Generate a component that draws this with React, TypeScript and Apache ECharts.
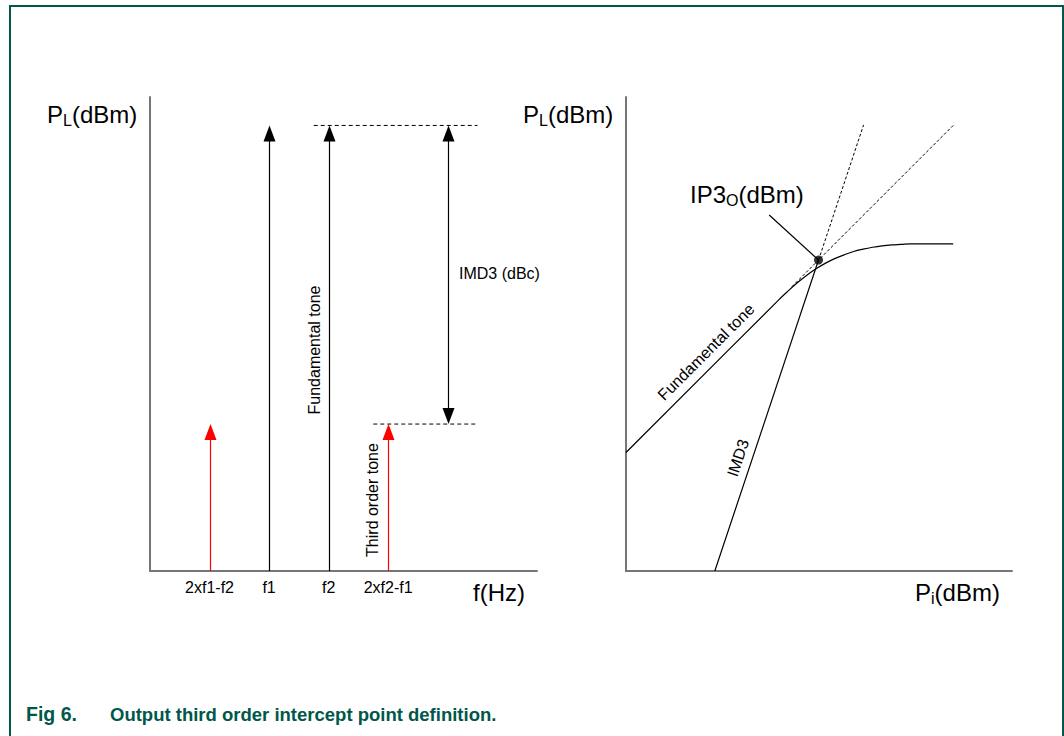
import React, { useEffect, useRef } from 'react';
import * as echarts from 'echarts';

const FONT = '"Liberation Sans", Arial, Helvetica, sans-serif';
const GREEN = '#00574A';
const AXIS_GRAY = '#767676';

// ---------- Left panel: output spectrum ----------
const freqTickPositions = [1, 2, 3, 4];
const freqTickLabels = ['2xf1-f2', 'f1', 'f2', '2xf2-f1'];
// [frequency position, base level, tone level]
const fundamentalTones = [
  [2, 0, 94],
  [3, 0, 94],
];
const thirdOrderTones = [
  [1, 0, 31],
  [4, 0, 31],
];
// [position, lower level, upper level]
const imd3Span = [[5, 31, 94]];
const fundamentalLevelGuide = [
  [2.75, 94],
  [5.5, 94],
];
const thirdOrderLevelGuide = [
  [3.75, 31],
  [5.5, 31],
];

// ---------- Right panel: Pout vs Pin ----------
const fundamentalPi = [-40, -8, -6, -4, -2, 0, 2, 4, 6, 8, 10, 12, 14, 16, 18, 20, 29];
const fundamentalPout = [-35, -3, -1.1, 0.7, 2.3, 3.7, 4.9, 5.9, 6.7, 7.4, 7.9, 8.3, 8.6, 8.8, 8.9, 9.0, 9.0];
const fundamentalExtPi = [-5, 29];
const fundamentalExtPout = [0, 34];
const imd3Pi = [-21.27, 0.6];
const imd3Pout = [-60, 5.6];
const imd3ExtPi = [0.6, 10.1];
const imd3ExtPout = [5.6, 34.1];
const interceptPoint = [0.6, 5.6];
const leaderPi = [-9.8, 0.6];
const leaderPout = [15.1, 5.6];

const zip = (a: number[], b: number[]) => a.map((v, i) => [v, b[i]]);

const arrowRenderer = (color: string, both: boolean) => (_params: any, api: any) => {
  const x = api.value(0);
  const pBase = api.coord([x, api.value(1)]);
  const pTip = api.coord([x, api.value(2)]);
  const px = Math.round(pTip[0]) + 0.5;
  const hw = 6;
  const hh = 16;
  const children: any[] = [
    {
      type: 'line',
      shape: { x1: px, y1: both ? pBase[1] - hh + 1 : pBase[1], x2: px, y2: pTip[1] + hh - 1 },
      style: { stroke: color, lineWidth: 1.2 },
    },
    {
      type: 'polygon',
      shape: { points: [[px, pTip[1]], [px - hw, pTip[1] + hh], [px + hw, pTip[1] + hh]] },
      style: { fill: color },
    },
  ];
  if (both) {
    children.push({
      type: 'polygon',
      shape: { points: [[px, pBase[1]], [px - hw, pBase[1] - hh], [px + hw, pBase[1] - hh]] },
      style: { fill: color },
    });
  }
  return { type: 'group', children };
};

const hiddenAxisParts = {
  axisTick: { show: false },
  splitLine: { show: false },
};
const axisLine = { show: true, onZero: false, lineStyle: { color: AXIS_GRAY, width: 2 } };

const plainText = (text: string, x: number, y: number, fontSize: number, extra: any = {}) => ({
  type: 'text',
  x,
  y,
  rotation: extra.rotation || 0,
  style: {
    text,
    fontSize,
    fontFamily: FONT,
    fill: extra.fill || '#000',
    fontWeight: extra.fontWeight || 'normal',
    align: extra.align || 'left',
    verticalAlign: 'middle',
  },
});

const subText = (main: string, sub: string, rest: string, x: number, y: number) => ({
  type: 'text',
  x,
  y,
  style: {
    text: `{a|${main}}{b|${sub}}{a|${rest}}`,
    fontFamily: FONT,
    fill: '#000',
    verticalAlign: 'middle',
    rich: {
      a: { fontSize: 24, lineHeight: 28, fontFamily: FONT, fill: '#000' },
      b: { fontSize: 16, lineHeight: 16, fontFamily: FONT, fill: '#000', verticalAlign: 'bottom' },
    },
  },
});

const option: any = {
  animation: false,
  backgroundColor: '#fff',
  grid: [
    { left: 150, top: 97, width: 387, height: 474 },
    { left: 626, top: 97, width: 386, height: 474 },
  ],
  xAxis: [
    {
      gridIndex: 0,
      type: 'value',
      min: 0,
      max: 6.5,
      interval: 1,
      axisLine,
      ...hiddenAxisParts,
      axisLabel: {
        show: true,
        margin: 8,
        fontSize: 16,
        color: '#000',
        fontFamily: FONT,
        showMinLabel: true,
        showMaxLabel: false,
        formatter: (v: number) => {
          const i = freqTickPositions.indexOf(v);
          return i >= 0 ? freqTickLabels[i] : '';
        },
      },
    },
    {
      gridIndex: 1,
      type: 'value',
      min: -40,
      max: 41.4,
      axisLine,
      ...hiddenAxisParts,
      axisLabel: { show: false },
    },
  ],
  yAxis: [
    {
      gridIndex: 0,
      type: 'value',
      min: 0,
      max: 100,
      axisLine,
      ...hiddenAxisParts,
      axisLabel: { show: false },
    },
    {
      gridIndex: 1,
      type: 'value',
      min: -60,
      max: 40,
      axisLine,
      ...hiddenAxisParts,
      axisLabel: { show: false },
    },
  ],
  series: [
    {
      type: 'line',
      xAxisIndex: 0,
      yAxisIndex: 0,
      data: fundamentalLevelGuide,
      symbol: 'none',
      lineStyle: { color: '#000', width: 1, type: [4, 3] },
      silent: true,
    },
    {
      type: 'line',
      xAxisIndex: 0,
      yAxisIndex: 0,
      data: thirdOrderLevelGuide,
      symbol: 'none',
      lineStyle: { color: '#000', width: 1, type: [4, 3] },
      silent: true,
    },
    {
      type: 'custom',
      xAxisIndex: 0,
      yAxisIndex: 0,
      data: fundamentalTones,
      encode: { x: 0, y: [1, 2] },
      renderItem: arrowRenderer('#000', false),
      clip: false,
    },
    {
      type: 'custom',
      xAxisIndex: 0,
      yAxisIndex: 0,
      data: thirdOrderTones,
      encode: { x: 0, y: [1, 2] },
      renderItem: arrowRenderer('#ff0000', false),
      clip: false,
    },
    {
      type: 'custom',
      xAxisIndex: 0,
      yAxisIndex: 0,
      data: imd3Span,
      encode: { x: 0, y: [1, 2] },
      renderItem: arrowRenderer('#000', true),
      clip: false,
    },
    // right panel
    {
      type: 'line',
      xAxisIndex: 1,
      yAxisIndex: 1,
      data: zip(fundamentalExtPi, fundamentalExtPout),
      symbol: 'none',
      lineStyle: { color: '#000', width: 1, type: [3, 2] },
    },
    {
      type: 'line',
      xAxisIndex: 1,
      yAxisIndex: 1,
      data: zip(imd3ExtPi, imd3ExtPout),
      symbol: 'none',
      lineStyle: { color: '#000', width: 1, type: [3, 2] },
    },
    {
      type: 'line',
      xAxisIndex: 1,
      yAxisIndex: 1,
      data: zip(fundamentalPi, fundamentalPout),
      symbol: 'none',
      smooth: 0.4,
      lineStyle: { color: '#000', width: 1.2 },
    },
    {
      type: 'line',
      xAxisIndex: 1,
      yAxisIndex: 1,
      data: zip(imd3Pi, imd3Pout),
      symbol: 'none',
      lineStyle: { color: '#000', width: 1.2 },
    },
    {
      type: 'line',
      xAxisIndex: 1,
      yAxisIndex: 1,
      data: zip(leaderPi, leaderPout),
      symbol: 'none',
      lineStyle: { color: '#000', width: 1.2 },
    },
    {
      type: 'scatter',
      xAxisIndex: 1,
      yAxisIndex: 1,
      data: [interceptPoint],
      symbol: 'circle',
      symbolSize: 9,
      itemStyle: { color: '#000' },
      z: 5,
    },
  ],
  graphic: [
    {
      type: 'rect',
      shape: { x: 10, y: 6, width: 1053, height: 780 },
      style: { fill: 'none', stroke: GREEN, lineWidth: 2 },
      silent: true,
    },
    subText('P', 'L', '(dBm)', 47, 114),
    subText('P', 'L', '(dBm)', 523, 114),
    subText('IP3', 'O', '(dBm)', 690, 194),
    subText('P', 'i', '(dBm)', 915, 592),
    plainText('f(Hz)', 473, 592, 24),
    plainText('IMD3 (dBc)', 459, 273, 16),
    plainText('Fundamental tone', 314, 350, 16, { rotation: Math.PI / 2, align: 'center' }),
    plainText('Third order tone', 372, 500, 16, { rotation: Math.PI / 2, align: 'center' }),
    plainText('Fundamental tone', 706, 352, 16, { rotation: Math.PI / 4, align: 'center' }),
    plainText('IMD3', 738, 458, 16, { rotation: Math.atan(3), align: 'center' }),
    plainText('Fig 6.', 26, 714, 19.5, { fill: GREEN, fontWeight: 'bold' }),
    plainText('Output third order intercept point definition.', 110, 714, 18.5, { fill: GREEN, fontWeight: 'bold' }),
  ],
};

export default function App() {
  const ref = useRef<HTMLDivElement>(null);
  useEffect(() => {
    if (!ref.current) return;
    const chart = echarts.init(ref.current, null, { renderer: 'svg' });
    chart.setOption(option);
    return () => chart.dispose();
  }, []);
  return (
    <div
      ref={ref}
      style={{ position: 'fixed', left: 0, top: 0, width: 1064, height: 736, background: '#fff' }}
    />
  );
}
